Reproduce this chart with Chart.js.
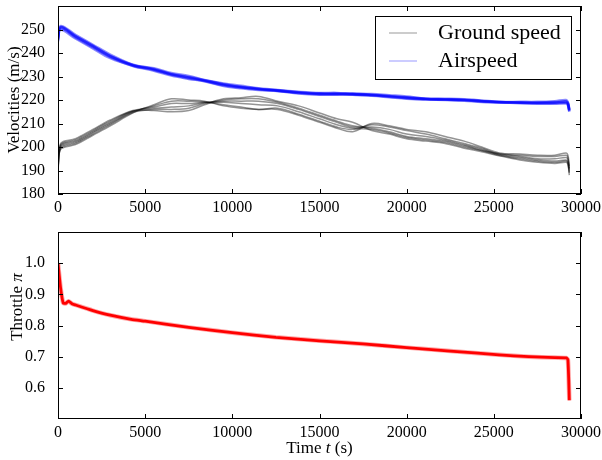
<!DOCTYPE html>
<html>
<head>
<meta charset="utf-8">
<script src="https://cdn.jsdelivr.net/npm/chart.js@4.4.1/dist/chart.umd.min.js"></script>
<style>
  html, body { margin: 0; padding: 0; background: #fff; }
  #wrap { position: relative; width: 602px; height: 460px; }
  canvas { position: absolute; left: 0; }
  #top { top: 0; }
  #bottom { top: 215px; }
</style>
</head>
<body>
<div id="wrap">
  <canvas id="top" width="602" height="215"></canvas>
  <canvas id="bottom" width="602" height="245"></canvas>
</div>
<script>
// time grid for the velocity runs (s)
const tVel = [0, 150, 1000, 2000, 3000, 4300, 5500, 6500, 7500, 8400, 9500, 10500, 11500, 12600, 13800, 15000,
  16000, 16900, 18000, 19000, 20000, 21100, 22200, 23300, 24300, 25300, 26500, 27500, 28500, 29150, 29250, 29330];

// ground speed runs (m/s)
const ground1 = [191, 199.5, 201.5, 205.5, 209.5, 214.7, 216, 216, 216.5, 218.5, 220, 220.5, 220.5, 219, 216.5, 213.5,
  211, 209, 208, 206.5, 204.5, 203.5, 202.5, 200.5, 198.5, 196.5, 195, 194, 193.5, 194, 193, 189];
const ground2 = [190, 200, 202, 206, 210, 215, 217.5, 219.5, 219.5, 219.2, 218, 217, 216, 216.5, 214, 211,
  208.5, 207.5, 209.5, 208.5, 207, 205.5, 203.5, 201.5, 199.5, 197, 196.5, 196, 196, 196.5, 195.5, 191];
const ground3 = [192, 201, 203, 207, 211, 215.3, 215.5, 215, 215.5, 218, 220.5, 221, 221.5, 219.5, 217.5, 214.5,
  212, 210.5, 207, 205.5, 203.5, 202.5, 201.5, 199.5, 198, 196.3, 194.5, 193.5, 193, 193.5, 192.5, 188];
const ground4 = [191.5, 199, 201, 205, 209, 214.5, 218, 220.5, 220, 219.5, 217.5, 216.5, 216, 216, 213.5, 210.5,
  208, 206.5, 210, 209, 207.5, 206.5, 204.5, 202.5, 200, 197.5, 197, 196.5, 196.5, 197.5, 196.5, 192];
const ground5 = [190.5, 200.5, 202.5, 206.5, 210.5, 215.2, 216.5, 217, 217.5, 218.8, 219.5, 219.5, 219.5, 218.5, 216, 213,
  210.5, 208.5, 208.5, 207.5, 205.5, 204.5, 203, 201, 199, 196.8, 195.5, 194.5, 194, 194.5, 193.5, 189.5];
const ground6 = [191, 201.5, 203.5, 207.5, 211.5, 215.5, 217, 218.5, 218.5, 219, 219, 218.5, 218, 217.5, 215, 212,
  209.5, 208, 207.5, 206, 204, 203, 202, 200, 198.5, 197.2, 196, 195, 195, 195.5, 194.5, 190.5];

// airspeed runs (m/s)
const air1 = [246, 251, 247.2, 243, 238.8, 234.8, 233, 231, 229.6, 228.3, 226.6, 225.5, 224.7, 224, 223.2, 222.6,
  222.6, 222.5, 222.1, 221.6, 221, 220.4, 220.2, 220, 219.5, 219.1, 218.9, 218.8, 218.9, 219.2, 218.5, 215.5];
const air2 = [245.5, 250.5, 246.7, 242.5, 238.3, 234.5, 232.5, 230.4, 229, 228, 226, 225, 224.3, 223.8, 222.8, 222.3,
  222.3, 222.3, 221.8, 221.2, 220.6, 220.2, 220, 219.7, 219.2, 219, 218.6, 218.4, 218.4, 218.5, 217.8, 215];
const air3 = [246.5, 251.5, 247.7, 243.5, 239.3, 235, 233.5, 231.5, 230.2, 228.5, 227, 226, 225, 224.2, 223.5, 223,
  223, 222.7, 222.5, 222, 221.5, 220.6, 220.5, 220.3, 219.8, 219.2, 219.2, 219.2, 219.5, 220, 219, 216];
const air4 = [247, 250, 246.2, 242, 237.8, 234.6, 232.8, 230.7, 229.3, 228.1, 226.3, 225.3, 224.5, 223.9, 223, 222.5,
  222.5, 222.4, 222, 221.4, 220.8, 220.3, 220.1, 219.9, 219.4, 219.05, 218.8, 218.6, 218.7, 218.8, 218.2, 215.3];
const air5 = [245, 251, 247.2, 243, 238.6, 234.9, 233.2, 231.1, 229.8, 228.4, 226.7, 225.6, 224.8, 224.1, 223.3, 222.8,
  222.7, 222.6, 222.2, 221.7, 221.1, 220.5, 220.3, 220.1, 219.6, 219.15, 219, 218.9, 219.1, 219.4, 218.6, 215.7];

// throttle
const tThr = [0, 150, 300, 450, 600, 800, 1000, 2000, 3000, 4200, 5000, 7500, 10000, 12500, 15000, 17500, 20000,
  22500, 25300, 27000, 28500, 29150, 29250, 29330];
const throttle = [1.0, 0.92, 0.872, 0.871, 0.878, 0.87, 0.866, 0.848, 0.833, 0.82, 0.814, 0.794, 0.777, 0.762, 0.751,
  0.741, 0.729, 0.718, 0.706, 0.700, 0.697, 0.696, 0.69, 0.56];

const xTicks = [0, 5000, 10000, 15000, 20000, 25000, 30000];
const velTicks = [180, 190, 200, 210, 220, 230, 240, 250];
const thrTicks = [0.6, 0.7, 0.8, 0.9, 1.0];

const groundRuns = [ground1, ground2, ground3, ground4, ground5, ground6];
const airRuns = [air1, air2, air3, air4, air5];

const FONT = '"Liberation Serif", "DejaVu Serif", serif';
const pts = (ts, vs) => ts.map((t, i) => ({ x: t, y: vs[i] }));

// frame + inward ticks on all four sides, rich axis titles, boxed legend
const decor = {
  id: 'decor',
  afterDatasetsDraw(chart, args, o) {
    const { ctx, chartArea: a, scales: { x, y } } = chart;
    ctx.save();
    ctx.strokeStyle = '#000';
    ctx.lineWidth = 1;
    ctx.beginPath();
    x.ticks.forEach(t => {
      const p = Math.round(x.getPixelForValue(t.value)) + 0.5;
      ctx.moveTo(p, a.bottom); ctx.lineTo(p, a.bottom - 5);
      ctx.moveTo(p, a.top); ctx.lineTo(p, a.top + 5);
    });
    y.ticks.forEach(t => {
      const p = Math.round(y.getPixelForValue(t.value)) + 0.5;
      ctx.moveTo(a.left, p); ctx.lineTo(a.left + 5, p);
      ctx.moveTo(a.right, p); ctx.lineTo(a.right - 5, p);
    });
    ctx.stroke();
    ctx.strokeRect(Math.round(a.left) + 0.5, Math.round(a.top) + 0.5,
      Math.round(a.right - a.left) - 1, Math.round(a.bottom - a.top) - 1);

    if (o.legend) {
      const L = o.legend;
      const bx = a.right - 10 - L.w, by = a.top + 10;
      ctx.fillStyle = '#fff';
      ctx.fillRect(bx, by, L.w, L.h);
      ctx.strokeRect(Math.round(bx) + 0.5, by + 0.5, L.w, L.h);
      L.items.forEach((it, i) => {
        const cy = by + 17 + i * 28;
        ctx.strokeStyle = it.color;
        ctx.lineWidth = 2;
        ctx.beginPath(); ctx.moveTo(bx + 14, cy); ctx.lineTo(bx + 42, cy); ctx.stroke();
        ctx.fillStyle = '#000';
        ctx.font = '22px ' + FONT;
        ctx.textBaseline = 'middle';
        ctx.fillText(it.label, bx + 63, cy);
      });
    }
    ctx.restore();
  },
  afterDraw(chart, args, o) {
    const { ctx, chartArea: a } = chart;
    if (o.yTitle) drawRich(ctx, o.yTitle, o.yTitleX, o.yTitleY != null ? o.yTitleY : (a.top + a.bottom) / 2, true);
    if (o.xTitle) drawRich(ctx, o.xTitle, (a.left + a.right) / 2, o.xTitleY, false);
  }
};

function drawRich(ctx, segs, cx, cy, rot) {
  ctx.save();
  ctx.translate(cx, cy);
  if (rot) ctx.rotate(-Math.PI / 2);
  let w = 0;
  const ws = segs.map(s => { ctx.font = (s.italic ? 'italic ' : '') + '17px ' + FONT; const m = ctx.measureText(s.text).width; w += m; return m; });
  let xx = -w / 2;
  ctx.fillStyle = '#000';
  ctx.textBaseline = 'middle';
  segs.forEach((s, i) => { ctx.font = (s.italic ? 'italic ' : '') + '17px ' + FONT; ctx.fillText(s.text, xx, 0); xx += ws[i]; });
  ctx.restore();
}

function axes(yRange, yTicks, yFmt, xHeight) {
  return {
    x: {
      type: 'linear', min: 0, max: 30000,
      afterBuildTicks: s => { s.ticks = xTicks.map(v => ({ value: v })); },
      ticks: { color: '#000', font: { family: FONT, size: 16 }, padding: -4, maxRotation: 0, autoSkip: false,
        callback: v => String(v) },
      grid: { display: false }, border: { display: false },
      afterFit: s => { s.height = xHeight; s.paddingLeft = 0; s.paddingRight = 0; }
    },
    y: {
      min: yRange[0], max: yRange[1],
      afterBuildTicks: s => { s.ticks = yTicks.map(v => ({ value: v })); },
      ticks: { color: '#000', font: { family: FONT, size: 16 }, padding: 5, callback: yFmt, autoSkip: false },
      grid: { display: false }, border: { display: false },
      afterFit: s => { s.width = 58; s.paddingTop = 0; s.paddingBottom = 0; }
    }
  };
}

const datasetsTop = [];
groundRuns.forEach(r => datasetsTop.push({
  data: pts(tVel, r), borderColor: 'rgba(0,0,0,0.42)', borderWidth: 1.5, pointRadius: 0, tension: 0.35
}));
airRuns.forEach(r => datasetsTop.push({
  data: pts(tVel, r), borderColor: 'rgba(0,0,255,0.45)', borderWidth: 2.6, pointRadius: 0, tension: 0.35
}));

new Chart(document.getElementById('top'), {
  type: 'line',
  data: { datasets: datasetsTop },
  options: {
    responsive: false, animation: false, devicePixelRatio: 1,
    layout: { padding: { left: 0, right: 21, top: 6, bottom: 0 } },
    scales: axes([180, 260], velTicks, v => String(v), 21),
    plugins: {
      legend: { display: false }, tooltip: { enabled: false },
      decor: {
        yTitle: [{ text: 'Velocities (m/s)' }], yTitleX: 15,
        legend: {
          w: 196, h: 63,
          items: [{ label: 'Ground speed', color: 'rgba(0,0,0,0.2)' }, { label: 'Airspeed', color: 'rgba(0,0,255,0.2)' }]
        }
      }
    }
  },
  plugins: [decor]
});

new Chart(document.getElementById('bottom'), {
  type: 'line',
  data: {
    datasets: [
      { data: pts(tThr, throttle), borderColor: 'rgba(255,0,0,0.35)', borderWidth: 4.5, pointRadius: 0, tension: 0.2 },
      { data: pts(tThr, throttle), borderColor: '#ff0000', borderWidth: 2.8, pointRadius: 0, tension: 0.2 }
    ]
  },
  options: {
    responsive: false, animation: false, devicePixelRatio: 1,
    layout: { padding: { left: 0, right: 21, top: 17, bottom: 0 } },
    scales: axes([0.5, 1.1], thrTicks, v => v.toFixed(1), 41),
    plugins: {
      legend: { display: false }, tooltip: { enabled: false },
      decor: {
        yTitle: [{ text: 'Throttle ' }, { text: 'π', italic: true }], yTitleX: 18, yTitleY: 92,
        xTitle: [{ text: 'Time ' }, { text: 't', italic: true }, { text: ' (s)' }], xTitleY: 234
      }
    }
  },
  plugins: [decor]
});
</script>
</body>
</html>
